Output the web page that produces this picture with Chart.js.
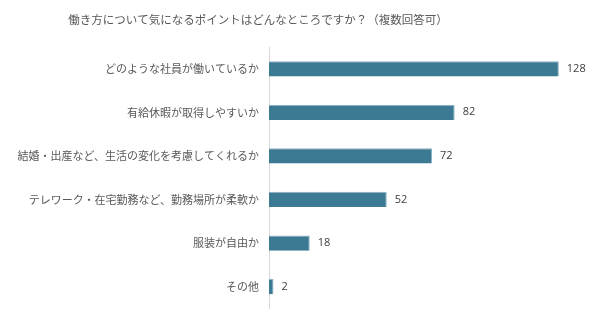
<!DOCTYPE html>
<html>
<head>
<meta charset="utf-8">
<script src="https://cdn.jsdelivr.net/npm/chart.js@4"></script>
<style>
  body { margin: 0; background: #fff; }
</style>
</head>
<body>
<canvas id="myChart" width="600" height="325"></canvas>
<script>
const chartTitle = "働き方について気になるポイントはどんなところですか？（複数回答可）";
const labels = [
  "どのような社員が働いているか",
  "有給休暇が取得しやすいか",
  "結婚・出産など、生活の変化を考慮してくれるか",
  "テレワーク・在宅勤務など、勤務場所が柔軟か",
  "服装が自由か",
  "その他",
];
const counts = [128, 82, 72, 52, 18, 2];

const jpFont = '"Noto Sans CJK JP", "Noto Sans", sans-serif';

// title sits a bit left of centre in the original, so draw it by hand
const titleText = {
  id: "titleText",
  afterDraw(chart) {
    const ctx = chart.ctx;
    ctx.save();
    ctx.font = "11.5px " + jpFont;
    ctx.fillStyle = "#595959";
    ctx.textAlign = "center";
    ctx.textBaseline = "middle";
    ctx.fillText(chartTitle, 258, 20);
    ctx.restore();
  },
};

// draws the count just past the end of each bar
const valueLabels = {
  id: "valueLabels",
  afterDatasetsDraw(chart) {
    const ctx = chart.ctx;
    const meta = chart.getDatasetMeta(0);
    ctx.save();
    ctx.font = '11px "Open Sans", sans-serif';
    ctx.fillStyle = "#404040";
    ctx.textAlign = "left";
    ctx.textBaseline = "middle";
    meta.data.forEach((bar, i) => {
      ctx.fillText(counts[i], bar.x + 8, bar.y);
    });
    ctx.restore();
  },
};

const ctx = document.getElementById("myChart").getContext("2d");
new Chart(ctx, {
  type: "bar",
  data: {
    labels: labels,
    datasets: [
      {
        data: counts,
        backgroundColor: "#3c7a93",
        borderColor: "#8fb3c4",
        borderWidth: { top: 1, right: 1, bottom: 0, left: 0 },
        borderSkipped: "left",
        barPercentage: 0.35,
        categoryPercentage: 1,
      },
    ],
  },
  options: {
    indexAxis: "y",
    responsive: false,
    animation: false,
    layout: { padding: { left: 0, right: 14, top: 47, bottom: 14 } },
    plugins: {
      legend: { display: false },
      tooltip: { enabled: false },
      title: { display: false },
    },
    scales: {
      x: {
        display: false,
        min: 0,
        max: 140,
      },
      y: {
        grid: { display: false, drawTicks: false },
        border: { display: true, color: "#d9d9d9", width: 1 },
        ticks: {
          color: "#595959",
          padding: 10,
          font: { family: jpFont, size: 11 },
        },
        afterFit(scale) {
          scale.width = 269;
        },
      },
    },
  },
  plugins: [valueLabels, titleText],
});
</script>
</body>
</html>
